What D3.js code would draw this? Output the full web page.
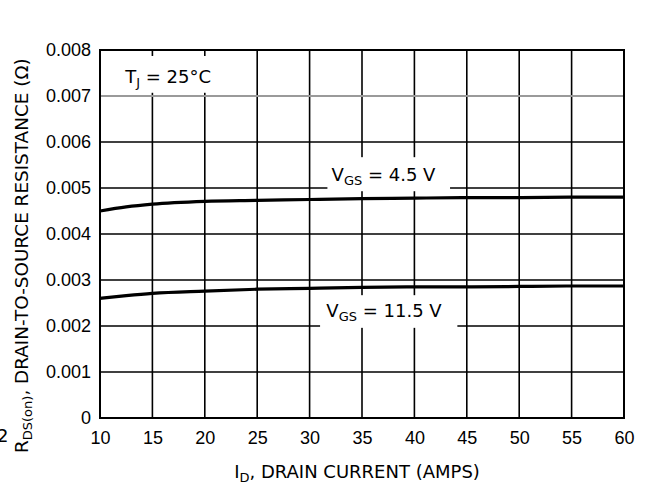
<!DOCTYPE html>
<html>
<head>
<meta charset="utf-8">
<script src="https://cdn.jsdelivr.net/npm/d3@7"></script>
<style>
	html, body { margin: 0; padding: 0; background: #fff; }
	svg { display: block; font-family: "DejaVu Sans", "Liberation Sans", sans-serif; }
</style>
</head>
<body>
<svg id="chart" width="649" height="490"></svg>
<script>
// drain current (A)
const currents = [10, 12.5, 15, 20, 25, 30, 35, 40, 45, 50, 55, 60];
// R_DS(on) in ohms
const rdsVgs45 = [0.00450, 0.00459, 0.00465, 0.00471, 0.00473, 0.00475, 0.00477, 0.00478, 0.00479, 0.00479, 0.00480, 0.00480];
const rdsVgs115 = [0.00260, 0.00266, 0.00271, 0.00276, 0.00280, 0.00282, 0.00284, 0.00285, 0.00285, 0.00286, 0.00287, 0.00287];

const xTicks = [10, 15, 20, 25, 30, 35, 40, 45, 50, 55, 60];
const yTicks = [0, 0.001, 0.002, 0.003, 0.004, 0.005, 0.006, 0.007, 0.008];
const yTickLabels = ["0", "0.001", "0.002", "0.003", "0.004", "0.005", "0.006", "0.007", "0.008"];

const svg = d3.select("#chart");
const m = { top: 50, right: 25, bottom: 72, left: 100 };
const W = 649, H = 490;
const iw = W - m.left - m.right;
const ih = H - m.top - m.bottom;

const x = d3.scaleLinear().domain([10, 60]).range([0, iw]);
const y = d3.scaleLinear().domain([0, 0.008]).range([ih, 0]);

const g = svg.append("g").attr("transform", `translate(${m.left}, ${m.top})`);

// grid
g.append("g").selectAll("line").data(xTicks.slice(1, -1)).join("line")
	.attr("x1", d => x(d)).attr("x2", d => x(d))
	.attr("y1", 0).attr("y2", ih)
	.attr("stroke", "#000").attr("stroke-width", 1.6);
g.append("g").selectAll("line").data(yTicks.slice(1, -1)).join("line")
	.attr("x1", 0).attr("x2", iw)
	.attr("y1", d => y(d)).attr("y2", d => y(d))
	.attr("stroke", d => d === 0.007 ? "#9a9a9a" : "#000")
	.attr("stroke-width", d => d === 0.007 ? 2 : 1.6);

// white label boxes that break the grid
const boxes = [
	{ x0: 10, x1: 24.3, y0: 0.00707, y1: 0.00787 },
	{ x0: 31.7, x1: 43.4, y0: 0.00493, y1: 0.00567 },
	{ x0: 31.0, x1: 44.1, y0: 0.00196, y1: 0.00267 }
];
g.append("g").selectAll("rect").data(boxes).join("rect")
	.attr("x", d => x(d.x0)).attr("width", d => x(d.x1) - x(d.x0))
	.attr("y", d => y(d.y1)).attr("height", d => y(d.y0) - y(d.y1))
	.attr("fill", "#fff");

// curves
const line = d3.line()
	.x((d, i) => x(currents[i]))
	.y(d => y(d))
	.curve(d3.curveMonotoneX);
[rdsVgs45, rdsVgs115].forEach(s => {
	g.append("path").datum(s)
		.attr("d", line)
		.attr("fill", "none").attr("stroke", "#000").attr("stroke-width", 3.2);
});

// frame
g.append("rect").attr("x", 0).attr("y", 0).attr("width", iw).attr("height", ih)
	.attr("fill", "none").attr("stroke", "#000").attr("stroke-width", 2);

// axes (labels only)
const xAxis = g.append("g")
	.attr("transform", `translate(0, ${ih})`)
	.call(d3.axisBottom(x).tickValues(xTicks).tickSize(0).tickPadding(13).tickFormat(d3.format("d")));
const yAxis = g.append("g")
	.call(d3.axisLeft(y).tickValues(yTicks).tickSize(0).tickPadding(9).tickFormat((d, i) => yTickLabels[i]));
[xAxis, yAxis].forEach(a => {
	a.select(".domain").remove();
	a.selectAll("text").attr("font-size", "18px").attr("fill", "#000").attr("font-family", null);
});

// annotations
function label(parent, px, py, main, sub, rest) {
	const t = parent.append("text").attr("x", px).attr("y", py)
		.attr("font-size", "18px").attr("fill", "#000");
	t.append("tspan").text(main);
	t.append("tspan").attr("font-size", "13px").attr("dy", 4).text(sub);
	t.append("tspan").attr("dy", -4).text(rest);
	return t;
}
label(g, x(12.4), y(0.00729), "T", "J", " = 25°C");
label(g, x(32.1), y(0.00515), "V", "GS", " = 4.5 V");
label(g, x(31.6), y(0.00219), "V", "GS", " = 11.5 V");

// axis titles
const xt = svg.append("text")
	.attr("x", m.left + iw / 2 - 5).attr("y", 478)
	.attr("text-anchor", "middle").attr("font-size", "18px");
xt.append("tspan").text("I");
xt.append("tspan").attr("font-size", "13px").attr("dy", 4).text("D");
xt.append("tspan").attr("dy", -4).text(", DRAIN CURRENT (AMPS)");

const yt = svg.append("text")
	.attr("transform", "translate(28, 453) rotate(-90)")
	.attr("font-size", "18.4px");
yt.append("tspan").text("R");
yt.append("tspan").attr("font-size", "13px").attr("dy", 4).text("DS(on)");
yt.append("tspan").attr("dy", -4).text(", DRAIN-TO-SOURCE RESISTANCE (Ω)");

// clipped glyph at the left edge of the original scan
svg.append("text").attr("x", -3).attr("y", 442).attr("font-size", "18px").text("2");
</script>
</body>
</html>
